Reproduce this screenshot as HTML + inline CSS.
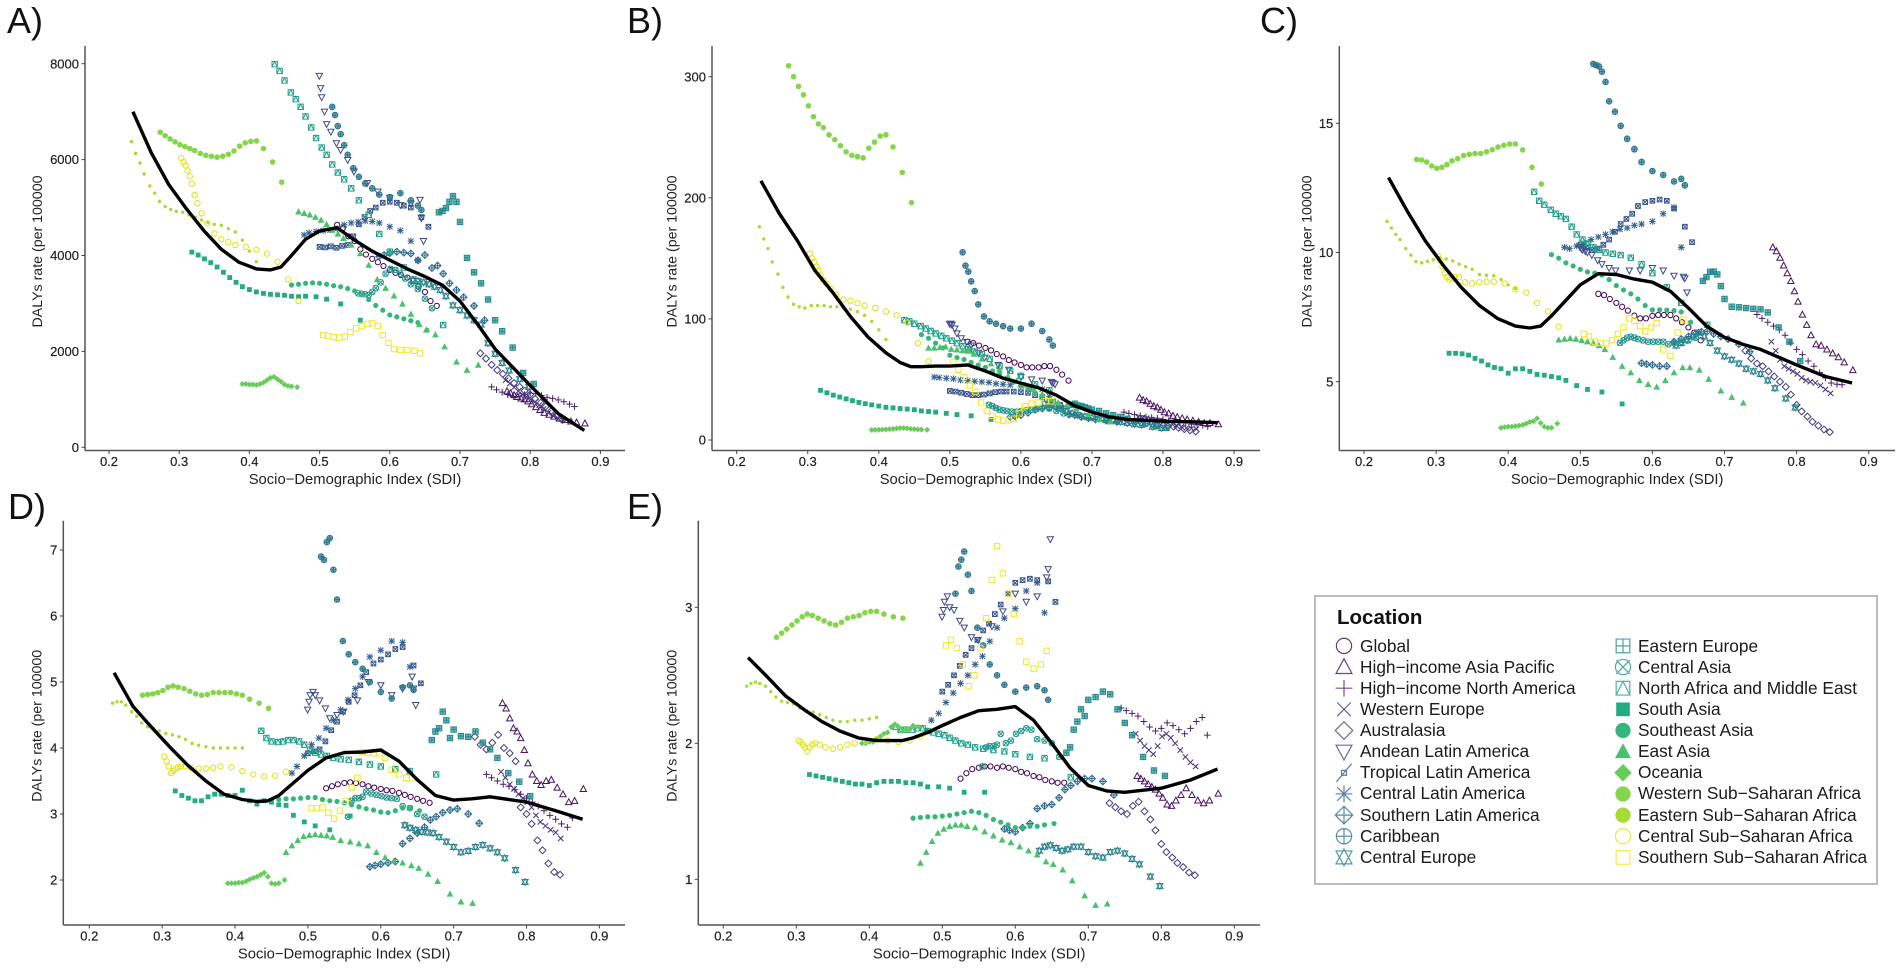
<!DOCTYPE html>
<html lang="en">
<head>
<meta charset="utf-8">
<title>DALYs rate versus Socio-Demographic Index by region</title>
<style>
html,body{margin:0;padding:0;background:#fff;width:1902px;height:968px;overflow:hidden}
svg{display:block;font-family:"Liberation Sans",Arial,sans-serif;filter:blur(.35px)}
.letter{font-size:36px;fill:#111}
.tick{font-size:13px;fill:#222;stroke:#222;stroke-width:.2px}
.xtitle{font-size:14.8px;fill:#222}
.ytitle{font-size:14.2px;fill:#222}
.lg{font-size:17.3px;fill:#1a1a1a}
.lgt{font-size:20.5px;font-weight:bold;fill:#111}
</style>
</head>
<body>
<svg id="chart" xmlns="http://www.w3.org/2000/svg" width="1902" height="968" viewBox="0 0 1902 968">
<text class="letter" x="7" y="33">A)</text>
<text class="letter" x="627" y="33">B)</text>
<text class="letter" x="1260" y="33">C)</text>
<text class="letter" x="8" y="519">D)</text>
<text class="letter" x="627" y="519">E)</text>
<g id="panels"></g>
<g id="legend">
<rect x="1315" y="596" width="562" height="288" fill="#fff" stroke="#aaa" stroke-width="1.6"/>
<text class="lgt" x="1337" y="624">Location</text>
<g id="legend-symbols"></g>
<text class="lg" x="1360" y="652">Global</text>
<text class="lg" x="1360" y="673">High−income Asia Pacific</text>
<text class="lg" x="1360" y="694">High−income North America</text>
<text class="lg" x="1360" y="715">Western Europe</text>
<text class="lg" x="1360" y="736">Australasia</text>
<text class="lg" x="1360" y="757">Andean Latin America</text>
<text class="lg" x="1360" y="778">Tropical Latin America</text>
<text class="lg" x="1360" y="799">Central Latin America</text>
<text class="lg" x="1360" y="821">Southern Latin America</text>
<text class="lg" x="1360" y="842">Caribbean</text>
<text class="lg" x="1360" y="863">Central Europe</text>
<text class="lg" x="1638" y="652">Eastern Europe</text>
<text class="lg" x="1638" y="673">Central Asia</text>
<text class="lg" x="1638" y="694">North Africa and Middle East</text>
<text class="lg" x="1638" y="715">South Asia</text>
<text class="lg" x="1638" y="736">Southeast Asia</text>
<text class="lg" x="1638" y="757">East Asia</text>
<text class="lg" x="1638" y="778">Oceania</text>
<text class="lg" x="1638" y="799">Western Sub−Saharan Africa</text>
<text class="lg" x="1638" y="821">Eastern Sub−Saharan Africa</text>
<text class="lg" x="1638" y="842">Central Sub−Saharan Africa</text>
<text class="lg" x="1638" y="863">Southern Sub−Saharan Africa</text>
</g>
</svg>
<script>
// Tick labels
const xTicks=[0.2,0.3,0.4,0.5,0.6,0.7,0.8,0.9];
const yTicksA=[0,2000,4000,6000,8000];
const yTicksB=[0,100,200,300];
const yTicksC=[5,10,15];
const yTicksD=[2,3,4,5,6,7];
const yTicksE=[1,2,3];

// SDI values per region (shared by all panels)
const sdi_global=[.525,.533,.541,.55,.558,.566,.575,.583,.591,.6,.608,.616,.625,.633,.641,.65,.658,.667];
const sdi_hiap=[.767,.772,.777,.782,.787,.792,.797,.802,.808,.814,.82,.827,.834,.842,.85,.858,.866,.878];
const sdi_hina=[.745,.752,.76,.768,.776,.784,.792,.8,.808,.816,.824,.832,.84,.848,.856,.863];
const sdi_weur=[.765,.771,.777,.783,.789,.795,.801,.807,.813,.819,.826,.833,.84,.847];
const sdi_aus=[.729,.737,.745,.753,.761,.769,.777,.785,.792,.8,.807,.815,.822,.83,.838,.846];
const sdi_andean=[.4996,.5015,.503,.507,.51,.516,.524,.53,.54,.549,.568,.583,.6,.615,.63,.643,.645,.648];
const sdi_trop=[.5,.508,.516,.524,.532,.54,.548,.556,.564,.572,.58,.59,.6,.61,.62,.63,.645,.655];
const sdi_clat=[.478,.485,.495,.505,.515,.525,.535,.545,.555,.565,.575,.585,.6,.615,.63,.64];
const sdi_slat=[.585,.592,.6,.61,.62,.63,.64,.65,.66,.668,.676,.685,.695,.705,.72,.735];
const sdi_carib=[.518,.522,.526,.53,.535,.54,.548,.556,.565,.575,.585,.6,.615,.63,.64,.645];
const sdi_ceur=[.633,.64,.648,.656,.664,.672,.68,.69,.7,.71,.72,.73,.74,.75,.76,.77,.785,.798];
const sdi_eeur=[.67,.675,.68,.685,.69,.695,.7,.71,.72,.73,.74,.75,.76,.775,.79,.805];
const sdi_casia=[.555,.56,.565,.57,.575,.58,.587,.594,.601,.608,.615,.622,.63,.64,.65,.66];
const sdi_nafr=[.436,.443,.45,.459,.466,.473,.48,.488,.495,.503,.51,.518,.526,.535,.545,.556,.57,.585,.6,.62,.64,.676];
const sdi_sasia=[.318,.327,.336,.345,.354,.363,.372,.381,.39,.4,.41,.42,.43,.44,.45,.46,.47,.48,.495,.51,.53,.558];
const sdi_seasia=[.46,.47,.48,.49,.5,.51,.52,.53,.54,.55,.56,.57,.58,.59,.6,.61,.62,.63,.64,.653];
const sdi_easia=[.47,.478,.486,.494,.502,.51,.518,.526,.534,.545,.558,.57,.582,.594,.606,.618,.63,.642,.652,.665,.678,.695,.71,.726];
const sdi_ocean=[.39,.395,.4,.405,.41,.415,.42,.425,.43,.435,.44,.445,.45,.455,.46,.468];
const sdi_wssa=[.273,.28,.287,.294,.301,.308,.315,.322,.33,.338,.346,.354,.362,.37,.378,.386,.394,.402,.41,.42,.433,.446];
const sdi_essa=[.232,.238,.244,.25,.258,.265,.272,.28,.288,.296,.305,.314,.323,.332,.341,.35,.36,.37,.38,.39,.4,.41];
const sdi_cssa=[.303,.306,.309,.312,.315,.318,.322,.326,.332,.34,.35,.36,.37,.38,.395,.41,.425,.44,.455,.47];
const sdi_sssa=[.505,.512,.52,.528,.536,.544,.552,.56,.568,.575,.583,.59,.598,.606,.615,.625,.635,.643];
const sdi_smooth=[.234,.26,.285,.31,.335,.36,.385,.41,.43,.445,.46,.48,.5,.525,.55,.575,.6,.625,.65,.675,.7,.725,.75,.8,.84,.877];

// Panel A rates
const A_global=[4640,4570,4400,4300,4130,4020,3930,3860,3780,3700,3640,3590,3540,3470,3350,3240,3050,2950];
const A_hiap=[1170,1130,1090,1050,1020,1000,960,900,840,780,720,680,640,600,570,540,520,500];
const A_hina=[1260,1200,1150,1100,1060,1060,1100,1130,1120,1080,1040,1020,990,950,900,850];
const A_weur=[1400,1330,1250,1170,1100,1050,1000,950,880,800,720,650,600,570];
const A_aus=[1960,1850,1720,1610,1530,1440,1340,1260,1180,1100,1010,930,850,760,660,570];
const A_andean=[7745,7490,7300,7000,6740,6580,6340,6200,5990,5750,5510,5330,5200,5050,5080,5160,4780,4300];
const A_trop=[4180,4170,4190,4160,4200,4220,4400,4650,4800,4930,5000,5100,5120,5100,5040,5000,4800,4600];
const A_clat=[4430,4470,4500,4520,4530,4560,4640,4680,4700,4720,4710,4680,4600,4520,4300,3900];
const A_slat=[3980,4010,4050,4080,4060,4040,3900,4010,3740,3790,3620,3420,3280,3130,2950,2650];
const A_carib=[7100,6930,6700,6530,6300,6100,5820,5640,5500,5400,5270,5220,5300,5150,5040,4950];
const A_ceur=[3500,3470,3440,3400,3350,3280,3150,2960,2860,2750,2650,2560,2170,1950,1760,1600,1420,1260];
const A_eeur=[4900,4930,4990,5120,5240,5120,4700,3950,3650,3420,3080,2650,2420,2080,1550,1320];
const A_casia=[3210,3200,3190,3180,3240,3320,3440,3620,3720,3700,3620,3520,3400,3300,3100,2900];
const A_nafr=[7990,7850,7650,7400,7260,7100,6900,6670,6450,6250,6100,5900,5730,5590,5400,5150,4850,4450,4080,3750,3400,2550];
const A_sasia=[4070,4010,3930,3850,3760,3650,3540,3440,3350,3290,3240,3210,3190,3180,3170,3150,3140,3150,3140,3090,2990,2650];
const A_seasia=[3385,3400,3420,3430,3420,3400,3370,3350,3310,3260,3180,3080,2960,2860,2760,2720,2680,2640,2600,2440];
const A_easia=[4913,4880,4850,4800,4740,4650,4530,4450,4360,4220,4040,3800,3500,3320,3160,2990,2780,2560,2450,2350,2100,1780,1610,1715];
const A_ocean=[1320,1320,1310,1310,1300,1320,1350,1400,1450,1470,1420,1370,1310,1280,1270,1255];
const A_wssa=[6570,6500,6430,6370,6310,6270,6230,6190,6130,6090,6070,6050,6070,6110,6180,6280,6350,6380,6390,6230,5950,5530];
const A_essa=[6375,6130,5930,5700,5450,5300,5130,5020,4960,4920,4900,4850,4800,4740,4690,4650,4630,4560,4490,4320,4090,3870];
const A_cssa=[6030,5950,5880,5770,5650,5500,5260,5090,4880,4670,4460,4340,4280,4220,4180,4120,4040,3870,3500,3050];
const A_sssa=[2340,2320,2300,2290,2310,2400,2480,2530,2570,2590,2530,2340,2180,2050,2030,2030,2010,1960];
const A_smooth=[7000,6150,5480,4980,4520,4130,3860,3720,3700,3760,4000,4340,4510,4580,4320,4090,3905,3720,3560,3380,3050,2570,2050,1290,700,350];

// Panel B rates
const B_global=[81,80,78,76,74,71,69,66,64,62,60,60,60,61,61,58,54,49];
const B_hiap=[35,33,32,30,28,27,25,23,22,20,19,18,17,16,15,14,14,13];
const B_hina=[23,22,21,20,19,18.5,18,17,16,15,14.5,14,13,12.5,12,11];
const B_weur=[19,18.5,18,17,16.5,16,15,14,13,12,11,10,9.5,9];
const B_aus=[17,16.5,16,15.5,15,14.5,14,13.5,12.5,12,11.5,11,10,9,8,7];
const B_andean=[96,96,95,92,88,84,81,78,72,68,62,58,52,50,49,48,47,46];
const B_trop=[40.5,40,39,38,37,37,37.5,38.5,39.5,40,40,40,39.5,39,37,35.5,32,29];
const B_clat=[52,51.5,51,50.5,49.5,49,48.5,48,47.5,46.5,46,45.5,44.5,44,42,36];
const B_slat=[19,19.5,20.5,22.5,25,26,27,27.5,26,21,20.5,19,18,17,16,15];
const B_carib=[155,144,139,131,123,112,102,98,96,94,92,92,96,90,83,78];
const B_ceur=[30,29,28,26,24,22,20.6,19.5,18.5,17.5,16.5,16,15,14,13,12.5,11,10];
const B_eeur=[29,29,28.5,28,27,26,25,24,22,20.5,19,17.5,15.5,13.5,11.5,10];
const B_casia=[29,28,26.5,25,24.5,24,23.5,23.4,24,24.5,25,25.5,26.5,26,24,22];
const B_nafr=[99,98,96,94,92,90,88,86,84,82,80,77.5,75,73,71,67,61,57,53,46,41,30];
const B_sasia=[41,39,37,35.5,34,32.5,31,30,29,28,27,26.5,26,25.5,25,24,23.5,23,22,21,20,17];
const B_seasia=[87,84,80,76,70,68,66.5,64,62,60,57,54,51,48,45,42,39,36,33,30];
const B_easia=[76,76,76.5,77,75,74.5,74,73.5,71,67,63,58,52.5,49,45.5,42,38,34,31,29,26,21,17,15];
const B_ocean=[8.3,8.4,8.5,8.6,8.8,9,9.2,9.5,9.8,9.9,9.6,9.2,9,8.8,8.6,8.5];
const B_wssa=[309,300,292,285,276,267,261,258,252,248,243,238,235,234,233,241,246,251,252,242,221,196];
const B_essa=[176,166,158,147,137,126,118,112,110,109,111,111,111,110,110,109,108,106,103,98,91,83];
const B_cssa=[154,150,147,143,140,136,132,129,125,120,116,115,113,111,109,106,103,97,80,65];
const B_sssa=[64,58,52,45,40,31,24,20,17,16,16.5,17.5,22,28,30,31,32,32];
const B_smooth=[214,187,165,140,122,102,85,72,64,60.5,60.5,61,61,62,57,51,47,43,37,28.5,23,19,17,15.5,15,14.3];

// Panel C rates
const C_global=[8.4,8.35,8.2,8.05,7.9,7.75,7.55,7.45,7.45,7.55,7.58,7.58,7.58,7.45,7.3,7.1,6.9,6.6];
const C_hiap=[10.2,10.05,9.8,9.5,9.2,8.9,8.5,8.1,7.6,7.2,6.8,6.45,6.4,6.25,6.1,5.95,5.75,5.45];
const C_hina=[7.6,7.45,7.3,7.15,7.0,6.8,6.5,6.25,6.05,5.8,5.6,5.35,5.15,4.95,4.9,4.88];
const C_weur=[6.55,6.2,5.85,5.6,5.5,5.4,5.3,5.15,5.05,5,4.95,4.85,4.7,4.55];
const C_aus=[6.2,5.9,5.7,5.6,5.4,5.2,5.0,4.8,4.5,4.1,3.85,3.65,3.45,3.3,3.15,3.05];
const C_andean=[10.2,10.15,10.1,10.05,10,9.9,9.7,9.55,9.4,9.3,9.3,9.3,9.4,9.3,9.1,9.06,9.0,8.45];
const C_trop=[10.3,10.2,10.1,10.15,10.3,10.5,10.8,11.1,11.3,11.5,11.8,11.95,12.0,12.05,12.0,11.7,11.0,10.4];
const C_clat=[10.2,10.15,10.25,10.35,10.5,10.6,10.7,10.8,10.9,10.95,11.05,11.1,11.2,11.5,11.75,10.2];
const C_slat=[5.72,5.68,5.65,5.6,5.6,6.55,6.65,6.75,6.85,6.93,6.95,6.85,6.75,6.65,6.45,6.16];
const C_carib=[17.3,17.25,17.2,17.0,16.6,15.85,15.45,14.9,14.4,14.0,13.5,13.15,13.0,12.75,12.85,12.6];
const C_ceur=[6.4,6.5,6.6,6.75,6.9,6.75,6.5,6.2,5.98,5.85,5.7,5.5,5.4,5.3,5.05,4.75,4.35,4.0];
const C_eeur=[8.9,9.05,9.25,9.26,9.15,8.7,8.2,7.9,7.88,7.85,7.82,7.8,7.68,7.1,6.55,5.8];
const C_casia=[6.5,6.6,6.7,6.74,6.7,6.65,6.6,6.55,6.55,6.55,6.55,6.45,6.5,6.55,6.6,6.7];
const C_nafr=[12.35,12.0,11.85,11.65,11.5,11.4,11.3,11.0,10.7,10.5,10.35,10.2,10.1,10.0,9.95,9.9,9.8,9.55,9.2,8.65,8.05,7.2];
const C_sasia=[6.1,6.1,6.08,6.03,5.9,5.8,5.65,5.55,5.5,5.33,5.5,5.5,5.4,5.28,5.25,5.2,5.15,5.05,4.85,4.7,4.6,4.14];
const C_seasia=[9.92,9.78,9.6,9.48,9.35,9.25,9.2,9.13,8.95,8.72,8.55,8.4,8.2,7.95,7.78,7.78,7.77,7.75,7.7,7.3];
const C_easia=[6.62,6.65,6.68,6.65,6.6,6.55,6.5,6.4,6.25,5.95,5.6,5.35,5.05,4.9,4.8,5.05,5.35,5.55,5.55,5.45,5.1,4.65,4.4,4.18];
const C_ocean=[3.22,3.24,3.26,3.26,3.28,3.3,3.33,3.38,3.44,3.47,3.58,3.4,3.26,3.22,3.22,3.38];
const C_wssa=[13.6,13.58,13.5,13.35,13.26,13.3,13.4,13.55,13.63,13.75,13.8,13.83,13.83,13.9,13.98,14.08,14.15,14.2,14.2,13.97,13.3,12.65];
const C_essa=[11.2,10.95,10.7,10.5,10.15,9.9,9.65,9.6,9.66,9.72,9.8,9.75,9.68,9.55,9.45,9.35,9.15,9.12,9.1,8.95,8.75,8.6];
const C_cssa=[9.85,9.7,9.45,9.2,9.05,8.95,9.0,9.05,9.05,8.85,8.8,8.85,8.87,8.87,8.8,8.58,8.45,8.05,7.72,7.13];
const C_sssa=[6.85,6.75,6.55,6.5,6.47,6.6,6.85,7.1,7.45,7.35,7.15,6.95,7.1,7.27,6.25,6.0,6.9,7.4];
const C_smooth=[12.9,11.6,10.45,9.5,8.65,7.95,7.45,7.15,7.08,7.15,7.55,8.15,8.75,9.18,9.15,8.97,8.85,8.5,7.85,7.15,6.72,6.45,6.25,5.65,5.2,4.95];

// Panel D rates
const D_global=[3.39,3.42,3.45,3.47,3.48,3.47,3.45,3.42,3.4,3.38,3.36,3.35,3.32,3.29,3.26,3.23,3.2,3.17];
const D_hiap=[4.68,4.6,4.45,4.3,4.25,4.15,3.97,3.77,3.6,3.5,3.44,3.5,3.52,3.4,3.3,3.18,3.2,3.38];
const D_hina=[3.6,3.55,3.5,3.45,3.42,3.37,3.3,3.24,3.18,3.12,3.05,2.98,2.92,2.85,2.8,2.94];
const D_weur=[3.64,3.55,3.45,3.38,3.3,3.24,3.18,3.1,2.98,2.88,2.82,2.76,2.72,2.63];
const D_aus=[4.17,4.05,3.98,4.08,4.2,4.0,3.92,3.8,3.1,3.0,2.85,2.6,2.45,2.25,2.12,2.08];
const D_andean=[4.58,4.7,4.8,4.85,4.8,4.72,4.6,4.45,4.5,4.55,4.72,5.0,4.95,4.8,4.9,5.08,4.9,4.65];
const D_trop=[3.92,3.95,3.98,4.1,4.27,4.4,4.55,4.7,4.8,4.95,5.15,5.28,5.34,5.42,5.5,5.53,5.25,4.98];
const D_clat=[3.62,3.72,3.88,4.05,4.15,4.3,4.42,4.58,4.73,4.9,5.08,5.38,5.48,5.62,5.6,5.23];
const D_slat=[2.2,2.22,2.24,2.26,2.28,2.55,2.63,2.71,2.8,2.91,2.96,3.02,3.06,3.08,3.0,2.86];
const D_carib=[6.9,6.85,7.12,7.18,6.7,6.25,5.62,5.42,5.3,5.2,5.0,4.85,4.75,4.92,4.95,4.88];
const D_ceur=[2.83,2.79,2.76,2.73,2.72,2.71,2.65,2.58,2.5,2.42,2.44,2.5,2.53,2.48,2.42,2.33,2.15,1.97];
const D_eeur=[4.12,4.25,4.3,4.55,4.42,4.15,4.28,4.18,4.17,4.25,4.08,3.98,3.85,3.62,3.49,3.27];
const D_casia=[2.96,3.2,3.24,3.24,3.26,3.34,3.31,3.29,3.27,3.25,3.24,3.23,3.12,3.09,3.0,2.96];
const D_nafr=[4.26,4.15,4.1,4.09,4.1,4.12,4.12,4.1,4.05,3.97,3.93,3.9,3.88,3.85,3.83,3.82,3.79,3.75,3.72,3.68,3.65,3.6];
const D_sasia=[3.35,3.28,3.24,3.2,3.2,3.26,3.3,3.3,3.28,3.28,3.36,3.2,3.15,3.2,3.18,3.14,3.13,2.98,2.88,2.82,2.76,2.97];
const D_seasia=[3.22,3.23,3.23,3.24,3.25,3.25,3.22,3.2,3.19,3.17,3.14,3.11,3.08,3.06,3.03,3.02,3.05,3.09,3.08,3.05];
const D_easia=[2.42,2.52,2.6,2.66,2.68,2.69,2.68,2.67,2.65,2.6,2.58,2.55,2.52,2.42,2.34,2.29,2.26,2.22,2.18,2.09,1.98,1.79,1.67,1.65];
const D_ocean=[1.95,1.95,1.95,1.96,1.96,1.98,2.01,2.03,2.05,2.08,2.11,2.05,1.95,1.94,1.95,2.0];
const D_wssa=[4.8,4.81,4.82,4.84,4.87,4.92,4.94,4.92,4.9,4.86,4.82,4.8,4.81,4.84,4.84,4.84,4.84,4.82,4.8,4.74,4.68,4.6];
const D_essa=[4.68,4.7,4.7,4.65,4.55,4.48,4.38,4.32,4.3,4.26,4.22,4.2,4.17,4.13,4.07,4.04,4.02,4.0,4.0,4.0,4.0,4.0];
const D_cssa=[3.87,3.8,3.72,3.62,3.65,3.68,3.71,3.72,3.72,3.7,3.69,3.69,3.7,3.72,3.71,3.65,3.6,3.57,3.58,3.64];
const D_sssa=[3.09,3.09,3.1,3.02,2.93,3.05,3.2,3.4,3.55,3.94,3.93,3.92,3.92,3.85,3.67,3.6,3.55,3.54];
const D_smooth=[5.14,4.63,4.32,4.02,3.74,3.5,3.3,3.22,3.19,3.2,3.28,3.47,3.66,3.85,3.93,3.94,3.97,3.8,3.52,3.28,3.21,3.23,3.26,3.18,3.05,2.92];

// Panel E rates
const E_global=[1.74,1.78,1.81,1.82,1.83,1.83,1.82,1.83,1.82,1.81,1.79,1.78,1.76,1.75,1.73,1.72,1.71,1.71];
const E_hiap=[1.76,1.74,1.72,1.7,1.68,1.66,1.63,1.6,1.55,1.54,1.58,1.62,1.67,1.62,1.58,1.56,1.58,1.63];
const E_hina=[2.26,2.24,2.22,2.2,2.16,2.12,2.09,2.11,2.15,2.13,2.1,2.07,2.11,2.16,2.19,2.06];
const E_weur=[2.07,2.02,1.98,1.95,1.92,1.98,2.05,2.07,2.04,2.0,1.95,1.9,1.86,1.83];
const E_aus=[1.56,1.53,1.5,1.48,1.54,1.57,1.5,1.44,1.36,1.26,1.2,1.16,1.12,1.09,1.05,1.03];
const E_andean=[2.93,2.98,3.04,3.08,3.0,2.98,2.9,2.85,2.78,2.76,2.86,2.97,3.1,3.04,3.08,3.22,3.28,3.5];
const E_trop=[2.38,2.43,2.5,2.57,2.65,2.7,2.76,2.83,2.88,2.95,3.02,3.1,3.18,3.2,3.21,3.2,3.19,3.04];
const E_clat=[2.09,2.17,2.22,2.3,2.37,2.44,2.5,2.58,2.64,2.75,2.85,2.92,2.99,3.12,3.18,2.96];
const E_slat=[1.37,1.36,1.35,1.38,1.41,1.52,1.54,1.55,1.6,1.66,1.69,1.72,1.74,1.74,1.72,1.62];
const E_carib=[3.1,3.3,3.35,3.41,3.24,3.12,2.85,2.72,2.58,2.5,2.43,2.38,2.41,2.42,2.39,2.32];
const E_ceur=[1.21,1.24,1.25,1.23,1.21,1.22,1.24,1.24,1.2,1.17,1.16,1.2,1.21,1.19,1.15,1.11,1.02,.95];
const E_eeur=[1.93,1.97,2.1,2.16,2.25,2.2,2.32,2.34,2.38,2.36,2.25,2.15,2.06,1.9,1.8,1.76];
const E_casia=[1.83,1.97,1.98,1.98,1.99,2.07,2.0,2.02,2.07,2.09,2.11,2.1,2.03,2.02,2.0,1.9];
const E_nafr=[2.12,2.1,2.1,2.1,2.11,2.11,2.09,2.08,2.07,2.06,2.04,2.02,2.0,1.99,1.97,1.96,1.95,1.94,1.92,1.9,1.89,1.75];
const E_sasia=[1.77,1.76,1.75,1.74,1.73,1.72,1.71,1.7,1.7,1.69,1.71,1.72,1.72,1.72,1.71,1.71,1.7,1.68,1.68,1.67,1.64,1.64];
const E_seasia=[1.45,1.455,1.46,1.46,1.465,1.47,1.48,1.49,1.5,1.49,1.47,1.44,1.42,1.4,1.38,1.38,1.39,1.39,1.4,1.41];
const E_easia=[1.12,1.2,1.28,1.34,1.37,1.39,1.4,1.4,1.39,1.38,1.35,1.32,1.29,1.27,1.24,1.21,1.18,1.13,1.11,1.07,.99,.88,.81,.82];
const E_ocean=[2.0,2.0,2.01,2.01,2.03,2.05,2.07,2.08,2.12,2.14,2.12,2.09,2.1,2.1,2.13,2.12];
const E_wssa=[2.78,2.81,2.84,2.87,2.9,2.93,2.95,2.94,2.92,2.9,2.88,2.87,2.89,2.92,2.93,2.94,2.96,2.97,2.97,2.95,2.93,2.92];
const E_essa=[2.42,2.44,2.45,2.44,2.42,2.38,2.34,2.31,2.3,2.29,2.26,2.24,2.23,2.21,2.19,2.17,2.16,2.16,2.17,2.17,2.18,2.19];
const E_cssa=[2.02,2.01,1.99,1.97,1.94,1.97,1.99,2.0,1.99,1.97,1.96,1.97,1.99,2.0,2.02,2.03,2.02,2.01,2.02,2.05];
const E_sssa=[2.72,2.76,2.7,2.58,2.42,2.5,2.7,2.92,3.2,3.45,3.25,3.1,2.95,2.75,2.6,2.55,2.58,2.68];
const E_smooth=[2.63,2.49,2.35,2.25,2.16,2.09,2.04,2.02,2.02,2.02,2.04,2.08,2.13,2.19,2.24,2.25,2.27,2.17,2.0,1.82,1.69,1.65,1.64,1.67,1.73,1.81];

const regionKeys=['global','high-income-asia-pacific','high-income-north-america','western-europe','australasia','andean-latin-america','tropical-latin-america','central-latin-america','southern-latin-america','caribbean','central-europe','eastern-europe','central-asia','north-africa-middle-east','south-asia','southeast-asia','east-asia','oceania','western-sub-saharan-africa','eastern-sub-saharan-africa','central-sub-saharan-africa','southern-sub-saharan-africa'];
const regionSdi=[sdi_global,sdi_hiap,sdi_hina,sdi_weur,sdi_aus,sdi_andean,sdi_trop,sdi_clat,sdi_slat,sdi_carib,sdi_ceur,sdi_eeur,sdi_casia,sdi_nafr,sdi_sasia,sdi_seasia,sdi_easia,sdi_ocean,sdi_wssa,sdi_essa,sdi_cssa,sdi_sssa];
const ratesA=[A_global,A_hiap,A_hina,A_weur,A_aus,A_andean,A_trop,A_clat,A_slat,A_carib,A_ceur,A_eeur,A_casia,A_nafr,A_sasia,A_seasia,A_easia,A_ocean,A_wssa,A_essa,A_cssa,A_sssa];
const ratesB=[B_global,B_hiap,B_hina,B_weur,B_aus,B_andean,B_trop,B_clat,B_slat,B_carib,B_ceur,B_eeur,B_casia,B_nafr,B_sasia,B_seasia,B_easia,B_ocean,B_wssa,B_essa,B_cssa,B_sssa];
const ratesC=[C_global,C_hiap,C_hina,C_weur,C_aus,C_andean,C_trop,C_clat,C_slat,C_carib,C_ceur,C_eeur,C_casia,C_nafr,C_sasia,C_seasia,C_easia,C_ocean,C_wssa,C_essa,C_cssa,C_sssa];
const ratesD=[D_global,D_hiap,D_hina,D_weur,D_aus,D_andean,D_trop,D_clat,D_slat,D_carib,D_ceur,D_eeur,D_casia,D_nafr,D_sasia,D_seasia,D_easia,D_ocean,D_wssa,D_essa,D_cssa,D_sssa];
const ratesE=[E_global,E_hiap,E_hina,E_weur,E_aus,E_andean,E_trop,E_clat,E_slat,E_carib,E_ceur,E_eeur,E_casia,E_nafr,E_sasia,E_seasia,E_easia,E_ocean,E_wssa,E_essa,E_cssa,E_sssa];

const colors=['#440154','#471365','#482173','#472f7d','#433d84','#3e4a89','#39568c','#34618d','#2f6c8e','#2b758e','#27808e','#238a8d','#21948b','#1fa088','#25ab82','#35b779','#4ac16d','#66cc5a','#85d54a','#a6db35','#dfe318','#f5e626'];
const plotRadius=[2.6,3,3,3,3,3,2.6,3,3,2.8,3,3,2.8,3,2.7,2.6,3.2,2.6,2.8,1.7,2.7,3];

const NS='http://www.w3.org/2000/svg';
function make(tag,parent){const el=document.createElementNS(NS,tag);parent.appendChild(el);return el;}

function shape(i,x,y,r){
  const f=n=>n.toFixed(2);
  const M=(a,b)=>'M'+f(x+a*r)+' '+f(y+b*r);
  const L=(a,b)=>'L'+f(x+a*r)+' '+f(y+b*r);
  const poly=pts=>pts.map((p,k)=>(k?L:M)(p[0],p[1])).join('')+'Z';
  const circle=(q)=>{const R=r*q;return 'M'+f(x-R)+' '+f(y)+'A'+f(R)+' '+f(R)+' 0 1 0 '+f(x+R)+' '+f(y)+'A'+f(R)+' '+f(R)+' 0 1 0 '+f(x-R)+' '+f(y)+'Z';};
  const sq=poly([[-.9,-.9],[.9,-.9],[.9,.9],[-.9,.9]]);
  const plus=M(-1.1,0)+L(1.1,0)+M(0,-1.1)+L(0,1.1);
  const cross=M(-.9,-.9)+L(.9,.9)+M(.9,-.9)+L(-.9,.9);
  const up=poly([[0,-1.1],[1.05,.85],[-1.05,.85]]);
  const down=poly([[0,1.1],[1.05,-.85],[-1.05,-.85]]);
  const dia=poly([[0,-1.15],[1.15,0],[0,1.15],[-1.15,0]]);
  switch(i){
    case 0:return circle(1);
    case 1:return up;
    case 2:return plus;
    case 3:return cross;
    case 4:return dia;
    case 5:return down;
    case 6:return M(-1,1.2)+L(1,-1.2)+poly([[-.32,-.32],[.32,-.32],[.32,.32],[-.32,.32]]);
    case 7:return plus+cross;
    case 8:return dia+plus;
    case 9:return circle(1)+plus;
    case 10:return up+down;
    case 11:return sq+M(-.9,0)+L(.9,0)+M(0,-.9)+L(0,.9);
    case 12:return circle(1)+cross;
    case 13:return sq+poly([[0,-.9],[.9,.9],[-.9,.9]]);
    case 14:return sq;
    case 15:return circle(1);
    case 16:return up;
    case 17:return dia;
    case 18:return circle(1);
    case 19:return circle(1);
    case 20:return circle(1);
    case 100:return sq+cross;
    default:return sq;
  }
}
const isFilled=i=>i>=14&&i<=19;
const isDenseInPlot=i=>i===9||i===11;

function drawPanel(root,p){
  const xScale=s=>p.x02+(s-0.2)*p.xk;
  const yScale=v=>p.yRefPx-(v-p.yRefV)*p.yk;
  const g=make('g',root);
  
  

  const yAxis=make('line',g);
  yAxis.setAttribute('x1',p.left);yAxis.setAttribute('x2',p.left);yAxis.setAttribute('y1',p.top);yAxis.setAttribute('y2',p.bottom);
  yAxis.setAttribute('stroke','#555');yAxis.setAttribute('stroke-width','1.5');
  
  
  const xAxis=make('line',g);
  xAxis.setAttribute('x1',p.left);xAxis.setAttribute('x2',p.right);xAxis.setAttribute('y1',p.bottom);xAxis.setAttribute('y2',p.bottom);
  xAxis.setAttribute('stroke','#555');xAxis.setAttribute('stroke-width','1.5');
  
  

  xTicks.forEach(t=>{
    const m=make('line',g);
    m.setAttribute('x1',xScale(t));m.setAttribute('x2',xScale(t));m.setAttribute('y1',p.bottom);m.setAttribute('y2',p.bottom+3.5);
    m.setAttribute('stroke','#444');m.setAttribute('stroke-width','1');
    
    
    const lb=make('text',g);
    lb.setAttribute('class','tick');lb.setAttribute('x',xScale(t));lb.setAttribute('y',p.bottom+15.5);lb.setAttribute('text-anchor','middle');
    lb.textContent=t.toFixed(1);
    
    
  });
  p.yTicks.forEach(t=>{
    const m=make('line',g);
    m.setAttribute('x1',p.left-3.5);m.setAttribute('x2',p.left);m.setAttribute('y1',yScale(t));m.setAttribute('y2',yScale(t));
    m.setAttribute('stroke','#444');m.setAttribute('stroke-width','1');
    
    
    const lb=make('text',g);
    lb.setAttribute('class','tick');lb.setAttribute('x',p.left-6);lb.setAttribute('y',yScale(t)+4.6);lb.setAttribute('text-anchor','end');
    lb.textContent=String(t);
    
    
  });
  const xt=make('text',g);
  xt.setAttribute('class','xtitle');xt.setAttribute('x',(p.left+p.right)/2);xt.setAttribute('y',p.bottom+33.5);xt.setAttribute('text-anchor','middle');
  xt.textContent='Socio\u2212Demographic Index (SDI)';
  
  
  const yt=make('text',g);
  yt.setAttribute('class','ytitle');yt.setAttribute('text-anchor','middle');
  yt.setAttribute('transform','translate('+(p.ytX+5)+' '+p.ytY+') rotate(-90)');
  yt.textContent='DALYs rate (per 100000';
  
  

  regionKeys.forEach((key,i)=>{
    const s=make('g',g);
    
    
    const xs=regionSdi[i],ys=p.rates[i],n=Math.min(xs.length,ys.length);
    for(let k=0;k<n;k++){
      const el=make('path',s);
      el.setAttribute('d',shape(i===6?100:i,xScale(xs[k]),yScale(ys[k]),plotRadius[i]));
      if(isFilled(i)){el.setAttribute('fill',colors[i]);}
      else{
        el.setAttribute('fill',isDenseInPlot(i)?colors[i]:'none');
        if(isDenseInPlot(i)){el.setAttribute('fill-opacity','.6');}
        el.setAttribute('stroke',colors[i]);el.setAttribute('stroke-width','1');
      }
      
      
    }
  });

  const line=make('polyline',g);
  line.setAttribute('points',sdi_smooth.map((s,k)=>xScale(s).toFixed(1)+','+yScale(p.smooth[k]).toFixed(1)).join(' '));
  line.setAttribute('fill','none');line.setAttribute('stroke','#000');line.setAttribute('stroke-width','3.4');line.setAttribute('stroke-linejoin','round');
  
  
}

const panelConfigs=[
 {id:'a',left:85,right:625,top:46,bottom:450.5,x02:109,xk:702,yRefV:0,yRefPx:447.3,yk:.04795,yTicks:yTicksA,rates:ratesA,smooth:A_smooth,ytX:37,ytY:251.5},
 {id:'b',left:712,right:1260,top:46,bottom:450.5,x02:736.7,xk:710.5,yRefV:0,yRefPx:440,yk:1.211,yTicks:yTicksB,rates:ratesB,smooth:B_smooth,ytX:671.7,ytY:251.5},
 {id:'c',left:1339.3,right:1895,top:46,bottom:450.5,x02:1364,xk:721,yRefV:5,yRefPx:381.7,yk:25.84,yTicks:yTicksC,rates:ratesC,smooth:C_smooth,ytX:1306.7,ytY:251.5},
 {id:'d',left:63.3,right:625,top:520.7,bottom:925,x02:89.3,xk:728.7,yRefV:2,yRefPx:880,yk:66,yTicks:yTicksD,rates:ratesD,smooth:D_smooth,ytX:36.7,ytY:725.8},
 {id:'e',left:698.3,right:1260,top:520.7,bottom:925,x02:723.3,xk:730,yRefV:1,yRefPx:879.3,yk:136,yTicks:yTicksE,rates:ratesE,smooth:E_smooth,ytX:671.7,ytY:725.8}
];
const panelRoot=document.getElementById('panels');
panelConfigs.forEach(p=>drawPanel(panelRoot,p));

const legendRoot=document.getElementById('legend-symbols');
regionKeys.forEach((key,i)=>{
  const col=i<11?0:1,row=i<11?i:i-11;
  const el=make('path',legendRoot);
  el.setAttribute('d',shape(i,col?1623:1344,645.9+row*21.15,7.6));
  if(isFilled(i)){el.setAttribute('fill',colors[i]);}
  else{el.setAttribute('fill','none');el.setAttribute('stroke',colors[i]);el.setAttribute('stroke-width','1.2');el.setAttribute('stroke-opacity','.8');}
  
  
});
</script>
</body>
</html>
